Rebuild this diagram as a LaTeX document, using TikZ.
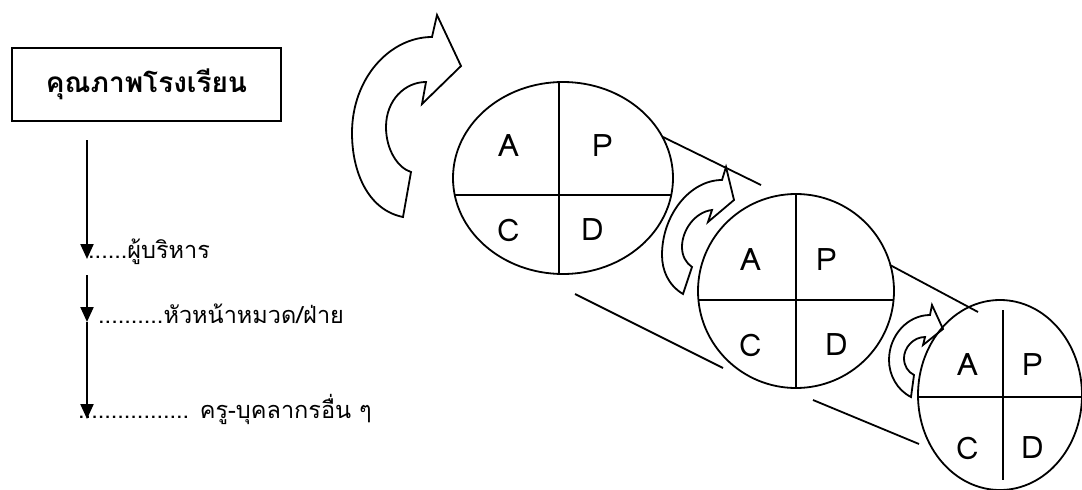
\documentclass[tikz,border=0pt]{standalone}
\usepackage{fontspec}
\setmainfont[Script=Thai]{Loma}
\usetikzlibrary{arrows.meta,positioning,shapes.geometric}

\tikzset{
  pdca/.style={draw,ellipse,line width=1.8pt,inner sep=0pt},
  quarter/.style={line width=1.8pt},
  letter/.style={font=\fontsize{31}{36}\selectfont,inner sep=0pt},
  turn/.style={line width=1.8pt,line join=miter},
  down/.style={line width=2.2pt,-{Triangle[width=13pt,length=15pt]}},
  level/.style={anchor=base west,font=\fontsize{23.5}{28}\selectfont,inner sep=0pt},
}

\begin{document}
\begin{tikzpicture}[x=1pt,y=-1pt]
  \useasboundingbox (0,0) rectangle (1082,490);

  % school quality and the levels below it
  \node[draw,line width=2.2pt,minimum width=269pt,minimum height=73pt,
        font=\bfseries\fontsize{28}{32}\selectfont] (school) at (146.5,84.5) {คุณภาพโรงเรียน};
  \coordinate (top) at (87,140);
  \coordinate (lvl1) at (87,259);
  \coordinate (lvl2start) at (87,275);
  \coordinate (lvl2) at (87,322);
  \coordinate (lvl3) at (87,419);
  \draw[down] (top) -- (lvl1);
  \draw[down] (lvl2start) -- (lvl2);
  \draw[down] (lvl2) -- (lvl3);
  \node[level] (exec) at (88,258) {......ผู้บริหาร};
  \node[level] (head) at (98,323) {..........หัวหน้าหมวด/ฝ่าย};
  \node[level] (staff) at (78,418) {................. ครู-บุคลากรอื่น ๆ};

  % first cycle
  \node[pdca,minimum width=220pt,minimum height=192pt] (cycle1) at (563,178) {};
  \draw[quarter] (454.7,195) -- (671.3,195);
  \draw[quarter] (559,82) -- (559,274);
  \node[letter] (a1) at (509,146) {A};
  \node[letter] (p1) at (603,146) {P};
  \node[letter] (c1) at (509,230) {C};
  \node[letter] (d1) at (593,230) {D};

  % second cycle
  \node[pdca,minimum width=196pt,minimum height=194pt] (cycle2) at (796,291) {};
  \draw[quarter] (698.4,300) -- (893.6,300);
  \draw[quarter] (796,194) -- (796,388);
  \node[letter] (a2) at (751,260) {A};
  \node[letter] (p2) at (827,260) {P};
  \node[letter] (c2) at (751,345) {C};
  \node[letter] (d2) at (837,345) {D};

  % third cycle
  \node[pdca,minimum width=164pt,minimum height=190pt] (cycle3) at (1000,395) {};
  \draw[quarter] (918,397) -- (1082,397);
  \draw[quarter] (1003,310) -- (1003,480);
  \node[letter] (a3) at (968,365) {A};
  \node[letter] (p3) at (1033,365) {P};
  \node[letter] (c3) at (968,448) {C};
  \node[letter] (d3) at (1033,448) {D};

  % slope lines
  \draw[quarter] (663,137) -- (761,185);
  \draw[quarter] (575,294) -- (723,368);
  \draw[quarter] (890,265) -- (978,312);
  \draw[quarter] (813,400) -- (919,444);

  % turning arrows
  \draw[turn] (403,217) .. controls (368,210) and (352,172) .. (352,133)
    .. controls (352,78) and (390,37) .. (432,37) -- (437,15) -- (461,66)
    -- (422,104) -- (426,82) .. controls (405,82) and (386,100) .. (386,127)
    .. controls (386,150) and (398,168) .. (411,172) -- cycle;
  \draw[turn] (683,294) .. controls (668,285) and (662,270) .. (662,255)
    .. controls (662,215) and (690,180) .. (722,180) -- (726,167) -- (734,200)
    -- (708,222) -- (712,210) .. controls (695,212) and (682,230) .. (682,247)
    .. controls (682,256) and (686,263) .. (692,267) -- cycle;
  \draw[turn] (911,397) .. controls (897,390) and (889,375) .. (889,360)
    .. controls (889,335) and (908,315) .. (930,315) -- (932,305) -- (943,329)
    -- (923,345) -- (925,337) .. controls (913,337) and (904,348) .. (904,358)
    .. controls (904,366) and (908,372) .. (914,375) -- cycle;
\end{tikzpicture}
\end{document}
